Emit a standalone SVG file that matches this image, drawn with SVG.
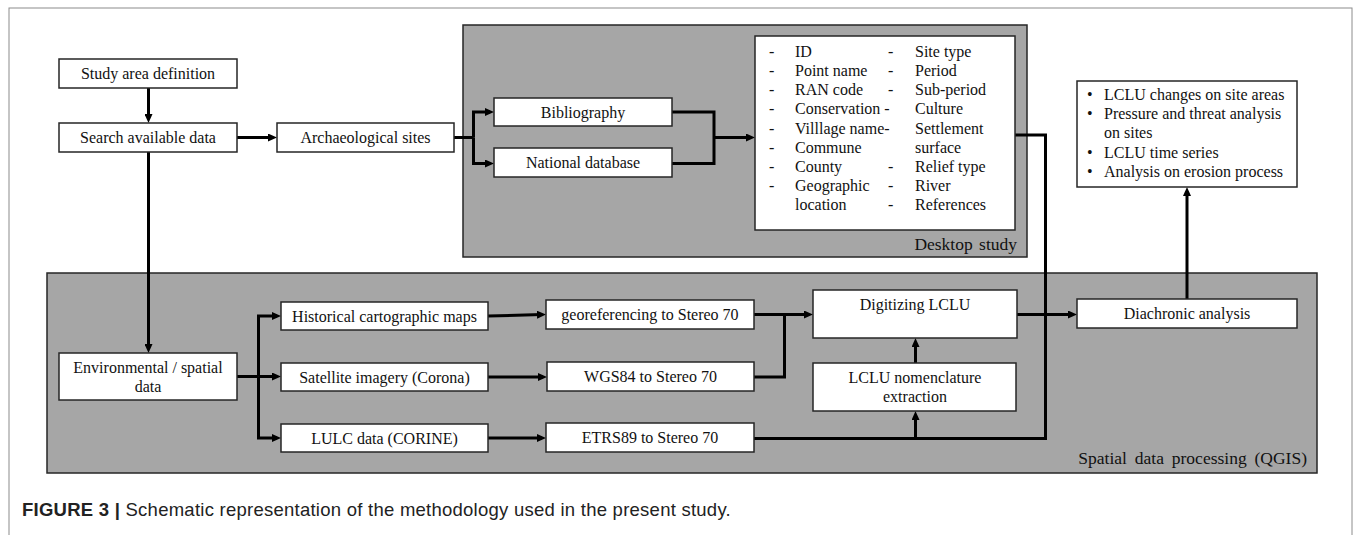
<svg xmlns="http://www.w3.org/2000/svg" width="1355" height="535" viewBox="0 0 1355 535">
<defs>
<marker id="ah" markerUnits="userSpaceOnUse" markerWidth="9" markerHeight="8" viewBox="0 0 9 8" refX="5" refY="4" orient="auto"><path d="M0,0 L9,4 L0,8 z" fill="#000"/></marker>
</defs>
<style>
.frame{fill:#fff;stroke:#8c8c8c;stroke-width:1}
.panel{fill:#a6a6a6;stroke:#262626;stroke-width:1.5}
.box{fill:#fff;stroke:#262626;stroke-width:1.5}
.t{font-family:"Liberation Serif","Times New Roman",serif;font-size:16px;fill:#111}
.c{text-anchor:middle}
.lbl{font-family:"Liberation Serif","Times New Roman",serif;font-size:17.5px;fill:#111;text-anchor:end;word-spacing:2px}
.ln{fill:none;stroke:#000;stroke-width:3}
.arr{marker-end:url(#ah)}
.cap{font-family:"Liberation Sans",Arial,sans-serif;font-size:18.5px;letter-spacing:0.25px;fill:#222}
</style>
<rect class="frame" x="9" y="8" width="1343" height="540"/>
<g id="panel-desktop"><rect class="panel" x="463" y="25" width="564" height="232"/><text class="lbl" x="1017" y="250">Desktop study</text></g>
<g id="panel-spatial"><rect class="panel" x="47" y="273" width="1270" height="200"/><text class="lbl" x="1307" y="464" style="word-spacing:3.5px">Spatial data processing (QGIS)</text></g>

<g id="connectors">
<path class="ln arr" d="M148.5,88 V119"/>
<path class="ln arr" d="M237,137.5 H273"/>
<path class="ln" d="M454,137.5 H473.5"/>
<path class="ln arr" d="M473.5,137.5 V112 H490"/>
<path class="ln arr" d="M473.5,137.5 V163.5 H490"/>
<path class="ln" d="M672,112 H714 V163.5 H672"/>
<path class="ln arr" d="M714,137.5 H751"/>
<path class="ln arr" d="M148.5,152 V349"/>
<path class="ln" d="M237,376.5 H258.5"/>
<path class="ln arr" d="M258.5,376.5 V316 H277"/>
<path class="ln arr" d="M258.5,376.5 H277"/>
<path class="ln arr" d="M258.5,376.5 V438 H277"/>
<path class="ln arr" d="M488,316 L542,314.5"/>
<path class="ln arr" d="M488,377 H543"/>
<path class="ln arr" d="M488,438 H542"/>
<path class="ln arr" d="M754,314.5 H809"/>
<path class="ln" d="M754,377 H784.5 V314.5"/>
<path class="ln" d="M754,438.5 H1045.5 V135 H1015"/>
<path class="ln arr" d="M915.5,438.5 V415"/>
<path class="ln arr" d="M915.5,363 V342"/>
<path class="ln arr" d="M1017,314.5 H1073"/>
<path class="ln arr" d="M1187,299 V191"/>
</g>

<g id="study-area"><rect class="box" x="59" y="59" width="178" height="29"/><text class="t c" x="148" y="79">Study area definition</text></g>
<g id="search-data"><rect class="box" x="59" y="123" width="178" height="29"/><text class="t c" x="148" y="143">Search available  data</text></g>
<g id="arch-sites"><rect class="box" x="277" y="123" width="177" height="29"/><text class="t c" x="365.5" y="143">Archaeological  sites</text></g>
<g id="bibliography"><rect class="box" x="494" y="98" width="178" height="28"/><text class="t c" x="583" y="117.5">Bibliography</text></g>
<g id="national-db"><rect class="box" x="494" y="148" width="178" height="29"/><text class="t c" x="583" y="168">National database</text></g>
<g id="attributes"><rect class="box" x="755" y="36" width="260" height="194"/>
<text class="t">
<tspan x="769" y="56.7">-</tspan><tspan x="795" y="56.7">ID</tspan><tspan x="888" y="56.7">-</tspan><tspan x="915" y="56.7">Site type</tspan>
<tspan x="769" y="75.9">-</tspan><tspan x="795" y="75.9">Point name</tspan><tspan x="888" y="75.9">-</tspan><tspan x="915" y="75.9">Period</tspan>
<tspan x="769" y="95.1">-</tspan><tspan x="795" y="95.1">RAN code</tspan><tspan x="888" y="95.1">-</tspan><tspan x="915" y="95.1">Sub-period</tspan>
<tspan x="769" y="114.3">-</tspan><tspan x="795" y="114.3">Conservation -</tspan><tspan x="915" y="114.3">Culture</tspan>
<tspan x="769" y="133.5">-</tspan><tspan x="795" y="133.5">Villlage  name-</tspan><tspan x="915" y="133.5">Settlement</tspan>
<tspan x="769" y="152.7">-</tspan><tspan x="795" y="152.7">Commune</tspan><tspan x="915" y="152.7">surface</tspan>
<tspan x="769" y="171.9">-</tspan><tspan x="795" y="171.9">County</tspan><tspan x="888" y="171.9">-</tspan><tspan x="915" y="171.9">Relief type</tspan>
<tspan x="769" y="191.1">-</tspan><tspan x="795" y="191.1">Geographic</tspan><tspan x="888" y="191.1">-</tspan><tspan x="915" y="191.1">River</tspan>
<tspan x="795" y="210.3">location</tspan><tspan x="888" y="210.3">-</tspan><tspan x="915" y="210.3">References</tspan>
</text></g>
<g id="outcomes"><rect class="box" x="1077" y="81" width="220" height="106"/>
<text class="t">
<tspan x="1087" y="100">•</tspan><tspan x="1104" y="100">LCLU changes on site areas</tspan>
<tspan x="1087" y="119.2">•</tspan><tspan x="1104" y="119.2">Pressure and threat analysis</tspan>
<tspan x="1104" y="138.4">on sites</tspan>
<tspan x="1087" y="157.6">•</tspan><tspan x="1104" y="157.6">LCLU time series</tspan>
<tspan x="1087" y="176.8">•</tspan><tspan x="1104" y="176.8">Analysis on erosion process</tspan>
</text></g>
<g id="env-data"><rect class="box" x="59" y="353" width="178" height="47"/><text class="t c" x="148" y="373">Environmental / spatial</text><text class="t c" x="148" y="392">data</text></g>
<g id="historical-maps"><rect class="box" x="281" y="302" width="207" height="28"/><text class="t c" x="384.5" y="321.5">Historical cartographic maps</text></g>
<g id="satellite"><rect class="box" x="281" y="363" width="207" height="28"/><text class="t c" x="384.5" y="382.5">Satellite imagery (Corona)</text></g>
<g id="lulc"><rect class="box" x="281" y="424" width="207" height="28"/><text class="t c" x="384.5" y="443.5">LULC data (CORINE)</text></g>
<g id="georef"><rect class="box" x="546" y="300" width="208" height="29"/><text class="t c" x="650" y="320">georeferencing to Stereo 70</text></g>
<g id="wgs84"><rect class="box" x="547" y="362" width="207" height="29"/><text class="t c" x="650.5" y="382">WGS84 to Stereo 70</text></g>
<g id="etrs89"><rect class="box" x="546" y="423" width="208" height="29"/><text class="t c" x="650" y="443">ETRS89 to Stereo 70</text></g>
<g id="digitizing"><rect class="box" x="813" y="290" width="204" height="48"/><text class="t c" x="915" y="310">Digitizing  LCLU</text></g>
<g id="nomenclature"><rect class="box" x="813" y="363" width="203" height="48"/><text class="t c" x="915" y="383">LCLU nomenclature</text><text class="t c" x="915" y="402">extraction</text></g>
<g id="diachronic"><rect class="box" x="1077" y="299" width="220" height="29"/><text class="t c" x="1187" y="319">Diachronic analysis</text></g>

<text class="cap" x="22" y="516"><tspan font-weight="bold">FIGURE 3 | </tspan>Schematic representation of the methodology used in the present study.</text>
</svg>
